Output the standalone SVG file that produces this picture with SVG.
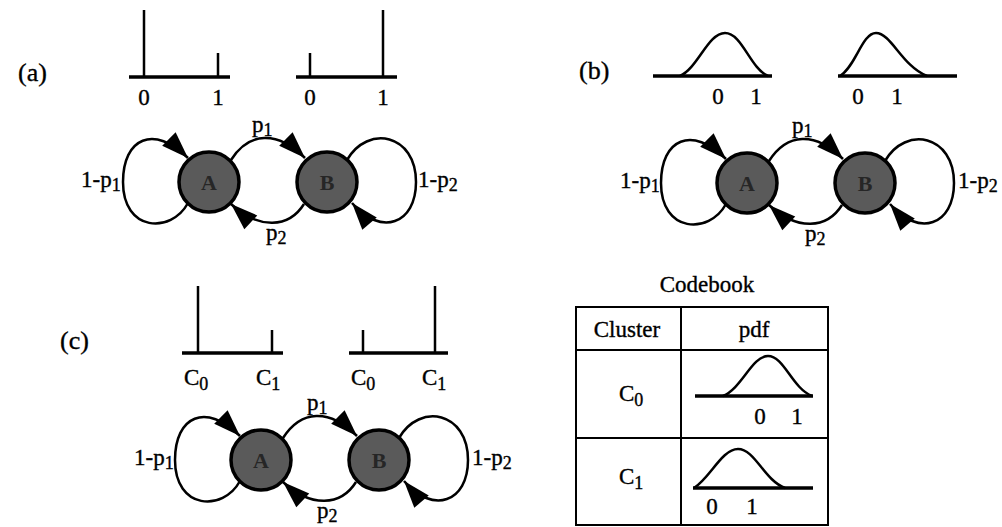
<svg xmlns="http://www.w3.org/2000/svg" width="1002" height="527" viewBox="0 0 1002 527">
<style>
text{font-family:"Liberation Serif","Times New Roman",serif;font-size:23px;fill:#000;stroke:#000;stroke-width:0.35}
.lbl{font-size:26px}
.sub{font-size:18px}
.ax{stroke:#000;stroke-width:3.5;fill:none}
.sp{stroke:#000;stroke-width:2.5;fill:none}
.bell{stroke:#000;stroke-width:2.5;fill:none}
.edge{stroke:#000;stroke-width:2.5;fill:none;marker-end:url(#ah)}
.node circle{fill:#5a5a5a;stroke:#000;stroke-width:3.5}
.node text{font-size:22px;font-weight:bold;fill:#262626;stroke:none;text-anchor:middle}
.tb{stroke:#000;stroke-width:2;fill:none}
.mid{text-anchor:middle}
</style>
<defs>
<marker id="ah" markerUnits="userSpaceOnUse" viewBox="-28 -11 30 22" refX="0" refY="0" markerWidth="30" markerHeight="22" orient="auto">
<path d="M0,0 L-27,-9.5 L-27,9.5 Z" fill="#000"/>
</marker>
</defs>
<rect width="1002" height="527" fill="#fff"/>

<!-- panel labels -->
<text class="lbl" x="18" y="81">(a)</text>
<text class="lbl" x="579" y="79">(b)</text>
<text class="lbl" x="60" y="349">(c)</text>

<!-- (a) histograms -->
<g id="hist-a">
<path class="ax" d="M129,77 H230"/>
<path class="sp" d="M144,77 V10 M218,77 V53"/>
<text class="mid" x="144" y="105">0</text>
<text class="mid" x="218" y="105">1</text>
<path class="ax" d="M296,77 H397"/>
<path class="sp" d="M310,77 V53 M383,77 V10"/>
<text class="mid" x="310" y="105">0</text>
<text class="mid" x="383" y="105">1</text>
</g>

<!-- (b) pdfs -->
<g id="pdf-b">
<path class="ax" d="M653,76 H772"/>
<path class="bell" d="M680,76 C698,68 708,33 725,33 C742,33 750,68 768,76"/>
<text class="mid" x="718" y="104">0</text>
<text class="mid" x="756" y="104">1</text>
<path class="ax" d="M838,76 H957"/>
<path class="bell" d="M840,76 C856,66 862,33 876,33 C891,33 902,66 927,76"/>
<text class="mid" x="858" y="104">0</text>
<text class="mid" x="897" y="104">1</text>
</g>

<!-- (c) histograms -->
<g id="hist-c">
<path class="ax" d="M182,353 H283"/>
<path class="sp" d="M198,353 V286 M272,353 V330"/>
<text x="184" y="385">C<tspan class="sub" dy="5">0</tspan></text>
<text x="256" y="385">C<tspan class="sub" dy="5">1</tspan></text>
<path class="ax" d="M349,353 H448"/>
<path class="sp" d="M363,353 V330 M435,353 V286"/>
<text x="351" y="385">C<tspan class="sub" dy="5">0</tspan></text>
<text x="422" y="385">C<tspan class="sub" dy="5">1</tspan></text>
</g>

<!-- connectors -->
<g id="connectors">
<g transform="translate(209,182)">
<path class="edge" d="M-21,21 C-38,52 -86,50 -86,0 C-86,-44 -55,-58 -21,-24"/>
<path class="edge" d="M22,-22 C40,-50 68,-52 96,-24"/>
<path class="edge" d="M95,22 C80,46 50,48 22,22"/>
<path class="edge" d="M138,-22 C159,-58 207,-48 207,0 C207,42 172,55 143,21"/>
</g>
<g transform="translate(747,183)">
<path class="edge" d="M-21,21 C-38,52 -86,50 -86,0 C-86,-44 -55,-58 -21,-24"/>
<path class="edge" d="M22,-22 C40,-50 68,-52 96,-24"/>
<path class="edge" d="M95,22 C80,46 50,48 22,22"/>
<path class="edge" d="M138,-22 C159,-58 207,-48 207,0 C207,42 172,55 143,21"/>
</g>
<g transform="translate(261,460)">
<path class="edge" d="M-21,21 C-38,52 -86,50 -86,0 C-86,-44 -55,-58 -21,-24"/>
<path class="edge" d="M22,-22 C40,-50 68,-52 96,-24"/>
<path class="edge" d="M95,22 C80,46 50,48 22,22"/>
<path class="edge" d="M138,-22 C159,-58 207,-48 207,0 C207,42 172,55 143,21"/>
</g>
</g>

<!-- edge labels -->
<g id="edge-labels">
<g transform="translate(209,182)">
<text x="-128" y="5">1-p<tspan class="sub" dy="4">1</tspan></text>
<text x="43" y="-50">p<tspan class="sub" dy="4">1</tspan></text>
<text x="57" y="58">p<tspan class="sub" dy="4">2</tspan></text>
<text x="209" y="5">1-p<tspan class="sub" dy="4">2</tspan></text>
</g>
<g transform="translate(747,183)">
<text x="-127" y="5">1-p<tspan class="sub" dy="4">1</tspan></text>
<text x="45" y="-50">p<tspan class="sub" dy="4">1</tspan></text>
<text x="58" y="58">p<tspan class="sub" dy="4">2</tspan></text>
<text x="211" y="5">1-p<tspan class="sub" dy="4">2</tspan></text>
</g>
<g transform="translate(261,460)">
<text x="-127" y="5">1-p<tspan class="sub" dy="4">1</tspan></text>
<text x="46" y="-50">p<tspan class="sub" dy="4">1</tspan></text>
<text x="56" y="58">p<tspan class="sub" dy="4">2</tspan></text>
<text x="211" y="5">1-p<tspan class="sub" dy="4">2</tspan></text>
</g>
</g>

<!-- nodes -->
<g id="node-a1" class="node"><circle cx="209" cy="182" r="30"/><text x="209" y="190">A</text></g>
<g id="node-b1" class="node"><circle cx="327" cy="182" r="30"/><text x="327" y="190">B</text></g>
<g id="node-a2" class="node"><circle cx="747" cy="183" r="30"/><text x="747" y="191">A</text></g>
<g id="node-b2" class="node"><circle cx="865" cy="183" r="30"/><text x="865" y="191">B</text></g>
<g id="node-a3" class="node"><circle cx="261" cy="460" r="30"/><text x="261" y="468">A</text></g>
<g id="node-b3" class="node"><circle cx="379" cy="460" r="30"/><text x="379" y="468">B</text></g>

<!-- codebook table -->
<g id="codebook">
<text class="mid" x="707" y="292">Codebook</text>
<rect class="tb" x="576" y="307" width="252" height="218"/>
<path class="tb" d="M681,307 V525 M576,350 H828 M576,438 H828"/>
<text class="mid" x="627" y="337">Cluster</text>
<text class="mid" x="754" y="337">pdf</text>
<text x="619" y="401">C<tspan class="sub" dy="5">0</tspan></text>
<text x="619" y="484">C<tspan class="sub" dy="5">1</tspan></text>
<path class="ax" d="M695,396 H813"/>
<path class="bell" d="M723,396 C742,388 752,356 768,356 C784,356 792,388 812,396"/>
<text class="mid" x="760" y="424">0</text>
<text class="mid" x="797" y="424">1</text>
<path class="ax" d="M693,488 H813"/>
<path class="bell" d="M694,488 C710,478 722,449 738,449 C755,449 764,480 785,488"/>
<text class="mid" x="712" y="514">0</text>
<text class="mid" x="752" y="514">1</text>
</g>
</svg>
